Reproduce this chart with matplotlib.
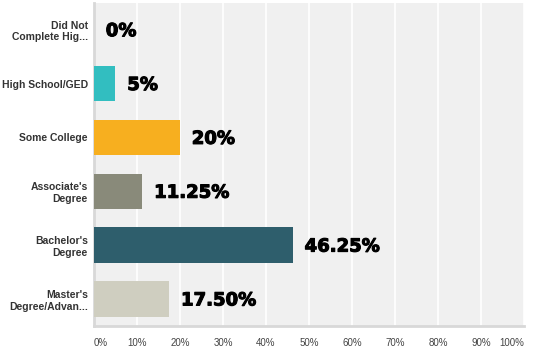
import matplotlib

matplotlib.use("Agg")
import matplotlib.pyplot as plt
import matplotlib.patheffects as pe

categories = [
    "Did Not\nComplete Hig...",
    "High School/GED",
    "Some College",
    "Associate's\nDegree",
    "Bachelor's\nDegree",
    "Master's\nDegree/Advan...",
]
values = [0, 5, 20, 11.25, 46.25, 17.50]
value_labels = ["0%", "5%", "20%", "11.25%", "46.25%", "17.50%"]
colors = ["#32BEC0", "#32BEC0", "#F7AF1F", "#898A7A", "#2E5E6C", "#CFCEC0"]
ticks = list(range(0, 101, 10))

plt.rcParams["font.family"] = ["Liberation Sans", "DejaVu Sans"]

fig = plt.figure(figsize=(5.34, 3.59), dpi=100)
ax = fig.add_axes([0.176, 0.092, 0.805, 0.9])
ax.set_facecolor("#F0F0F0")

ypos = list(range(len(categories)))
ax.barh(ypos, values, height=0.66, color=colors, zorder=3)
for y, v, lab in zip(ypos, values, value_labels):
    t = ax.annotate(lab, (v, y), xytext=(8.5, -1), textcoords="offset points",
                    ha="left", va="center", fontsize=13, fontweight="bold",
                    family="DejaVu Sans", color="black", zorder=4)
    t.set_path_effects([pe.withStroke(linewidth=0.8, foreground="black")])

ax.set_xlim(0, 100)
ax.set_ylim(5.5, -0.5)
ax.set_xticks(ticks)
ax.set_xticklabels([f"{t}%" for t in ticks], fontsize=7, color="#444444")
xl = ax.get_xticklabels()
xl[0].set_ha("left")
xl[-1].set_ha("right")
ax.set_yticks(ypos)
ax.set_yticklabels(categories, fontsize=7.5, fontweight="bold", color="#333333")
ax.tick_params(axis="both", length=0)
ax.tick_params(axis="x", pad=9)
ax.tick_params(axis="y", pad=4.5)
ax.grid(axis="x", color="white", linewidth=1.2, zorder=1)

for s in ["top", "right"]:
    ax.spines[s].set_visible(False)
ax.spines["left"].set_color("#D8D8D8")
ax.spines["left"].set_linewidth(2)
ax.spines["bottom"].set_color("#D8D8D8")
ax.spines["bottom"].set_linewidth(2)

fig.savefig("out.png", dpi=100)
